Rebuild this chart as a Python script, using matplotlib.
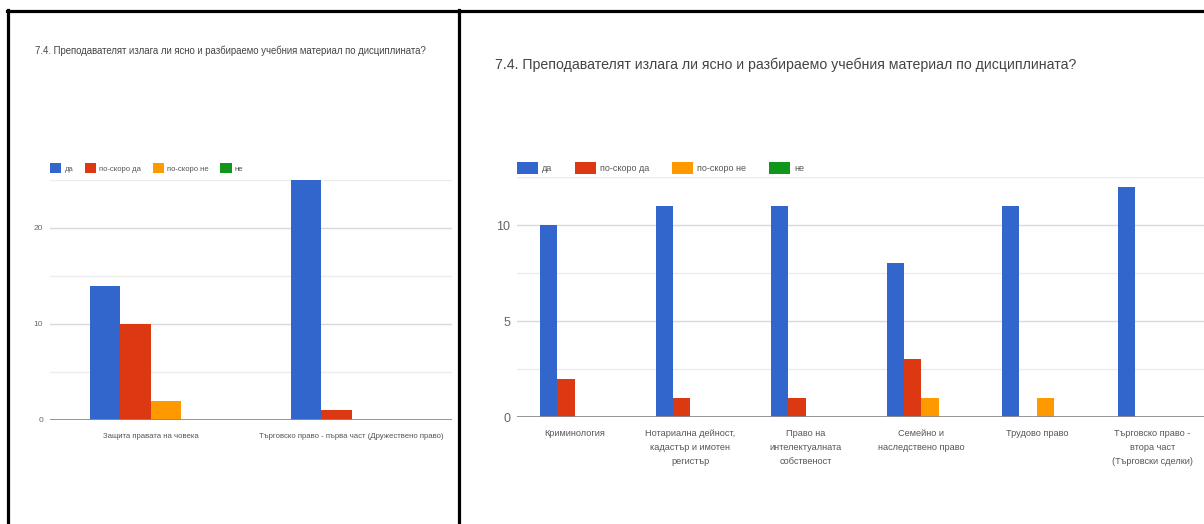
import numpy as np
import matplotlib
matplotlib.use("Agg")
import matplotlib.pyplot as plt
from matplotlib.patches import Patch
from matplotlib.lines import Line2D

plt.rcParams['font.family'] = ['Liberation Sans', 'DejaVu Sans']

# данни
zaglavie = "7.4. Преподавателят излага ли ясно и разбираемо учебния материал по дисциплината?"
serii = ["да", "по-скоро да", "по-скоро не", "не"]
cvetove = ["#3366cc", "#dc3912", "#ff9900", "#109618"]

ljavo_kategorii = ["Защита правата на човека",
                   "Търговско право - първа част (Дружествено право)"]
ljavo_stoinosti = [[14, 25],   # да
                   [10, 1],    # по-скоро да
                   [2, 0],     # по-скоро не
                   [0, 0]]     # не
ljavo_tikove = [0, 10, 20]

djasno_kategorii = ["Криминология",
                    "Нотариална дейност,\nкадастър и имотен\nрегистър",
                    "Право на\nинтелектуалната\nсобственост",
                    "Семейно и\nнаследствено право",
                    "Трудово право",
                    "Търговско право -\nвтора част\n(Търговски сделки)"]
djasno_stoinosti = [[10, 11, 11, 8, 11, 12],
                    [2, 1, 1, 3, 0, 0],
                    [0, 0, 0, 1, 1, 0],
                    [0, 0, 0, 0, 0, 0]]
djasno_tikove = [0, 5, 10]

W, H = 1204, 524
fig = plt.figure(figsize=(W / 100, H / 100), dpi=100)


def px(x0, y0, x1, y1):
    # пиксели -> координати на фигурата
    return [x0 / W, 1 - y1 / H, (x1 - x0) / W, (y1 - y0) / H]


def panel(rect, kategorii, stoinosti, tikove, ymax, minor, lblsize, ticksize, ypad,
          lsp):
    ax = fig.add_axes(rect)
    x = np.arange(len(kategorii))
    shirina = 0.15
    for i, (ime, cvjat) in enumerate(zip(serii, cvetove)):
        ax.bar(x + (i - 1.5) * shirina, stoinosti[i], width=shirina, color=cvjat,
               align='center', zorder=3)
    ax.set_xlim(-0.5, len(kategorii) - 0.5)
    ax.set_ylim(0, ymax)
    # линии на мрежата
    for v in np.arange(minor, ymax + 0.01, minor):
        major = v in tikove
        ax.axhline(v, color="#d9d9d9" if major else "#ececec", lw=1.0, zorder=1)
    ax.axhline(0, color="#8c8c8c", lw=1.3, zorder=4)
    ax.set_yticks(tikove)
    ax.set_yticklabels([str(t) for t in tikove], color="#666666", fontsize=ticksize)
    ax.set_xticks(x)
    ax.set_xticklabels(kategorii, color="#555555", fontsize=lblsize, linespacing=lsp,
                       va='top')
    ax.tick_params(length=0, pad=9)
    ax.tick_params(axis='y', pad=ypad)
    for s in ax.spines.values():
        s.set_visible(False)
    return ax


axL = panel(px(50, 180, 452, 420), ljavo_kategorii, ljavo_stoinosti, ljavo_tikove,
            25, 5, 5.6, 6, 5, 1.5)
axR = panel(px(517, 177, 1210, 417), djasno_kategorii, djasno_stoinosti, djasno_tikove,
            12.5, 2.5, 6.6, 9, 5, 1.7)

# заглавия
fig.text(35 / W, 1 - 51 / H, zaglavie, fontsize=6.9, color="#444444", va='center')
fig.text(495 / W, 1 - 65 / H, zaglavie, fontsize=10.2, color="#444444", va='center')

# легенди
handles = [Patch(facecolor=c, edgecolor='none') for c in cvetove]
fig.legend(handles, serii, loc='center left', bbox_to_anchor=(50 / W, 1 - 168 / H),
           ncol=4, frameon=False, fontsize=5.5, handlelength=1.5, handleheight=1.5,
           handletextpad=0.4, columnspacing=1.5, borderpad=0, borderaxespad=0,
           labelcolor="#555555")
fig.legend(handles, serii, loc='center left', bbox_to_anchor=(517 / W, 1 - 168 / H),
           ncol=4, frameon=False, fontsize=6.5, handlelength=2.3, handleheight=1.8,
           handletextpad=0.5, columnspacing=2.5, borderpad=0, borderaxespad=0,
           labelcolor="#555555")

# рамка около двата панела
for xs, ys in [([7, W], [10.5, 10.5]), ([7.5, 7.5], [10, H]), ([459, 459], [10, H])]:
    fig.add_artist(Line2D([v / W for v in xs], [1 - v / H for v in ys],
                          color="black", lw=2.3, transform=fig.transFigure))

fig.savefig("out.png", dpi=100, facecolor="white")
